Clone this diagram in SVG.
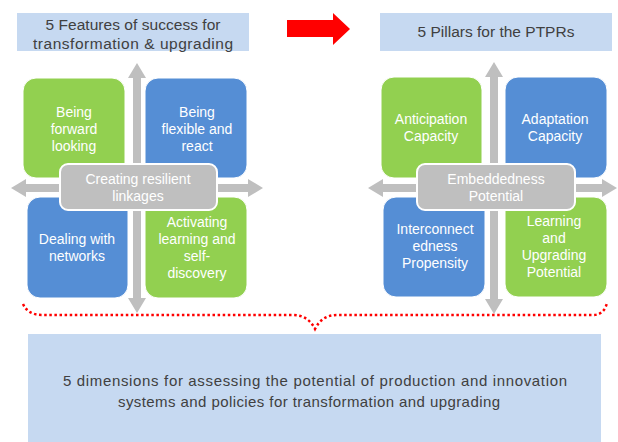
<svg xmlns="http://www.w3.org/2000/svg" width="618" height="442" viewBox="0 0 618 442">
<style>
text{font-family:"Liberation Sans",Arial,sans-serif;text-anchor:middle}
.ttl{fill:#c6d9f1}
.tt{font-size:15.5px;fill:#404040}
.bt{font-size:14px;fill:#ffffff}
.g{fill:#92d050;stroke:#ffffff;stroke-width:1}
.b{fill:#558ed5;stroke:#ffffff;stroke-width:1}
.c{fill:#bfbfbf;stroke:#ffffff;stroke-width:2}
.ar{fill:#bfbfbf}
</style>
<rect width="618" height="442" fill="#ffffff"/>
<g id="connectors">
<polygon class="ar" points="137,63 146,78 141,78 141,298 146,298 137,313 128,298 133,298 133,78 128,78"/>
<polygon class="ar" points="11,188 26,179 26,184 248,184 248,179 263,188 248,197 248,192 26,192 26,197"/>
<polygon class="ar" points="494,62 503,77 498,77 498,299 503,299 494,314 485,299 490,299 490,77 485,77"/>
<polygon class="ar" points="368,188 383,179 383,184 602,184 602,179 617,188 602,197 602,192 383,192 383,197"/>
<polygon fill="#ff0000" points="287,20 333,20 333,13 350,29 333,45 333,37 287,37"/>
<path d="M23,304 Q28,315 42,315 L293,315 Q308,315 315,329 Q322,315 337,315 L593,315 Q604,315 607,303" fill="none" stroke="#ff0000" stroke-width="2.5" stroke-dasharray="2.5 2.6"/>
</g>
<g id="title-left">
<rect class="ttl" x="17" y="13" width="232" height="38"/>
<text class="tt" x="133" y="30" textLength="175" lengthAdjust="spacing">5 Features of success for</text>
<text class="tt" x="133" y="49" textLength="200" lengthAdjust="spacing">transformation &amp; upgrading</text>
</g>
<g id="title-right">
<rect class="ttl" x="380" y="13" width="232" height="38"/>
<text class="tt" x="496" y="37">5 Pillars for the PTPRs</text>
</g>
<g id="forward">
<rect class="g" x="23" y="78" width="102" height="100" rx="13"/>
<text class="bt" x="74" y="117">Being</text>
<text class="bt" x="74" y="134">forward</text>
<text class="bt" x="74" y="151">looking</text>
</g>
<g id="flexible">
<rect class="b" x="145" y="78" width="102" height="100" rx="13"/>
<text class="bt" x="197" y="117">Being</text>
<text class="bt" x="197" y="134">flexible and</text>
<text class="bt" x="197" y="151">react</text>
</g>
<g id="networks">
<rect class="b" x="27" y="197" width="101" height="101" rx="13"/>
<text class="bt" x="77" y="244">Dealing with</text>
<text class="bt" x="77" y="261">networks</text>
</g>
<g id="learning">
<rect class="g" x="145" y="197" width="102" height="101" rx="13"/>
<text class="bt" x="197" y="227">Activating</text>
<text class="bt" x="197" y="244">learning and</text>
<text class="bt" x="197" y="261">self-</text>
<text class="bt" x="197" y="278">discovery</text>
</g>
<g id="linkages">
<rect class="c" x="60" y="164" width="157" height="46" rx="8"/>
<text class="bt" x="138" y="184">Creating resilient</text>
<text class="bt" x="138" y="201">linkages</text>
</g>
<g id="anticipation">
<rect class="g" x="381" y="77" width="101" height="101" rx="13"/>
<text class="bt" x="431" y="124">Anticipation</text>
<text class="bt" x="431" y="141">Capacity</text>
</g>
<g id="adaptation">
<rect class="b" x="505" y="77" width="102" height="101" rx="13"/>
<text class="bt" x="555" y="124">Adaptation</text>
<text class="bt" x="555" y="141">Capacity</text>
</g>
<g id="interconnectedness">
<rect class="b" x="383" y="197" width="102" height="100" rx="13"/>
<text class="bt" x="435" y="234">Interconnect</text>
<text class="bt" x="435" y="251">edness</text>
<text class="bt" x="435" y="268">Propensity</text>
</g>
<g id="upgrading">
<rect class="g" x="505" y="197" width="102" height="100" rx="13"/>
<text class="bt" x="554" y="226">Learning</text>
<text class="bt" x="554" y="243">and</text>
<text class="bt" x="554" y="260">Upgrading</text>
<text class="bt" x="554" y="277">Potential</text>
</g>
<g id="embeddedness">
<rect class="c" x="417" y="164" width="158" height="46" rx="8"/>
<text class="bt" x="496" y="184">Embeddedness</text>
<text class="bt" x="496" y="201">Potential</text>
</g>
<g id="dimensions">
<rect class="ttl" x="28" y="334" width="573" height="112"/>
<text class="tt" x="315" y="386" style="font-size:15px" textLength="504" lengthAdjust="spacing">5 dimensions for assessing the potential of production and innovation</text>
<text class="tt" x="309" y="407" style="font-size:15px" textLength="382" lengthAdjust="spacing">systems and policies for transformation and upgrading</text>
</g>
</svg>
